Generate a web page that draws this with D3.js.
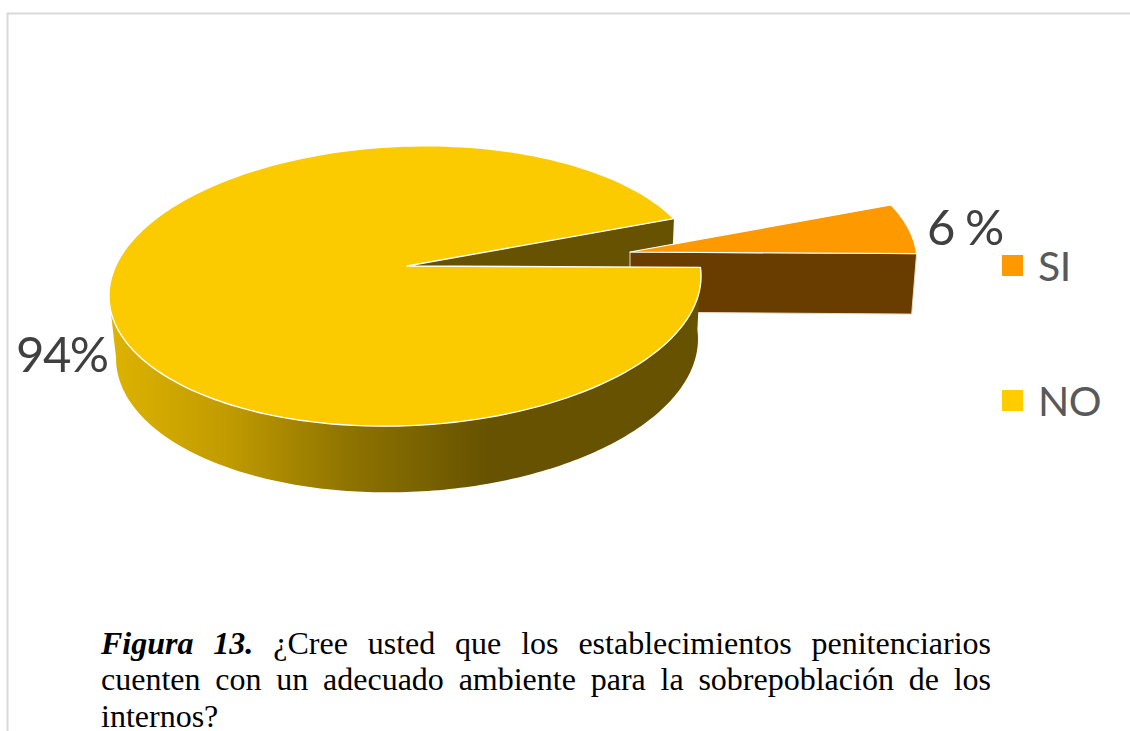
<!DOCTYPE html>
<html><head><meta charset="utf-8">
<script src="https://cdn.jsdelivr.net/npm/d3@7/dist/d3.min.js"></script>
<style>html,body{margin:0;padding:0;background:#fff}svg{display:block}</style>
</head><body><svg id="c" width="1130" height="731"></svg>
<script>
const categories = ["SI", "NO"];
const values = [6, 94];
const dataLabels = ["6 %", "94%"];
const captionLead = "Figura 13.";
const captionLines = [
  "¿Cree usted que los establecimientos penitenciarios",
  "cuenten con un adecuado ambiente para la sobrepoblación de los",
  "internos?"
];
const sliceColors = ["#FF9900", "#FBCB00"];
const legendColors = ["#FF9900", "#FFCC00"];

const svg = d3.select("#c");
const W = 1130, H = 731;

// frame
svg.append("path").attr("d", `M${W},13.5H7.5V${H}`).attr("fill", "none").attr("stroke", "#d9d9d9").attr("stroke-width", 2);

// wall shading
const defs = svg.append("defs");
const grad = defs.append("linearGradient").attr("id", "wall").attr("gradientUnits", "userSpaceOnUse")
  .attr("x1", 110).attr("x2", 490).attr("y1", 0).attr("y2", 0);
[[0, "#DDB300"], [0.3, "#C29C00"], [0.62, "#8F7400"], [1, "#665200"]].forEach(s =>
  grad.append("stop").attr("offset", s[0]).attr("stop-color", s[1]));

// pie angles from values
const rot = 73 * Math.PI / 180;
const arcs = d3.pie().sort(null).startAngle(rot).endAngle(rot + 2 * Math.PI)(values);
const si = arcs[0], no = arcs[1];

// perspective projection of the disc; level 0 = top face, level 1 = bottom face
const K = 1 / 7, TILT = 0.033, RIM_SHIFT = -2;
const levels = [
  { x0: 407, y0: 266, rx: 293, ry: 137 },
  { x0: 407, y0: 328, rx: 288, ry: 140.6 }
];
const explode = { dx: 223, dy: [-14, -16], sx: 0.97 };
function proj(a, level, radial, ex) {
  const L = levels[level];
  const u = Math.sin(a) * radial, v = -Math.cos(a) * radial;
  const w = 1 - K * v;
  const sx = ex ? explode.sx : 1;
  const px = sx * L.rx * u / w;
  const shift = (level === 0 && !ex && radial > 0) ? RIM_SHIFT : 0;
  return [L.x0 + shift + (ex ? explode.dx : 0) + px,
          L.y0 + (ex ? explode.dy[level] : 0) + L.ry * v / w - TILT * px];
}
const line = d3.line();
const span = (a0, a1, level, ex) => d3.range(0, 181).map(i => proj(a0 + (a1 - a0) * i / 180, level, 1, ex));
const sector = (a0, a1, level, ex) => line([proj(0, level, 0, ex), ...span(a0, a1, level, ex)]) + "Z";

const edge = "#ffffff";

// far cut face of the main pie
svg.append("path")
  .attr("d", line([proj(si.startAngle, 0, 0), proj(si.startAngle, 0, 1), proj(si.startAngle, 1, 1), proj(si.startAngle, 1, 0)]) + "Z")
  .attr("fill", "#665200");

// exploded slice: front cut face and top
svg.append("path")
  .attr("d", line([proj(si.endAngle, 0, 0, true), proj(si.endAngle, 0, 1, true), proj(si.endAngle, 1, 1, true), proj(si.endAngle, 1, 0, true)]) + "Z")
  .attr("fill", "#693D00").attr("stroke", "#e6d9c8").attr("stroke-width", 1);
svg.append("path")
  .attr("d", sector(si.startAngle, si.endAngle, 0, true))
  .attr("fill", sliceColors[0]).attr("stroke", edge).attr("stroke-width", 1.2).attr("stroke-linejoin", "round");

// outer wall of the main pie, up to the left silhouette
const wallEnd = 262 * Math.PI / 180;
svg.append("path")
  .attr("d", line([...span(no.startAngle, wallEnd, 0), ...span(wallEnd, no.startAngle, 1)]) + "Z")
  .attr("fill", "url(#wall)");

// top of the main pie
svg.append("path")
  .attr("d", sector(no.startAngle, no.endAngle, 0))
  .attr("fill", sliceColors[1]).attr("stroke", edge).attr("stroke-width", 1.4).attr("stroke-linejoin", "round");

// data labels
const labelPos = [[927, 245], [16, 372]];
svg.selectAll("text.dl").data(dataLabels).join("text").attr("class", "dl")
  .attr("x", (d, i) => labelPos[i][0]).attr("y", (d, i) => labelPos[i][1])
  .attr("font-family", "Lato, 'Open Sans', sans-serif").attr("font-size", 49).attr("letter-spacing", -1.5).attr("fill", "#404040")
  .text(d => d);

// legend
const legendY = d3.scalePoint().domain(categories).range([265.5, 400.5]);
const lg = svg.selectAll("g.lg").data(categories).join("g").attr("class", "lg")
  .attr("transform", d => `translate(1002,${legendY(d)})`);
lg.append("rect").attr("y", -10.5).attr("width", 21).attr("height", 21).attr("fill", (d, i) => legendColors[i]);
lg.append("text").attr("x", 36).attr("y", 15).attr("font-family", "Lato, 'Open Sans', sans-serif")
  .attr("font-size", 41).attr("letter-spacing", -0.5).attr("fill", "#595959").text(d => d);

// caption, justified
const capLeft = 101, capRight = 991, capSize = 32, baselines = [654, 690, 727];
captionLines.forEach((t, i) => {
  const el = svg.append("text").attr("x", capLeft).attr("y", baselines[i])
    .attr("font-family", "'Liberation Serif', serif").attr("font-size", capSize).attr("fill", "#000");
  if (i === 0) {
    el.append("tspan").attr("font-weight", "bold").attr("font-style", "italic").text(captionLead + " ");
  }
  el.append("tspan").text(t);
  if (i < captionLines.length - 1) {
    const full = (i === 0 ? captionLead + " " : "") + t;
    const gaps = full.split(" ").length - 1;
    const w = el.node().getComputedTextLength();
    el.attr("word-spacing", (capRight - capLeft - w) / gaps);
  }
});
</script></body></html>
